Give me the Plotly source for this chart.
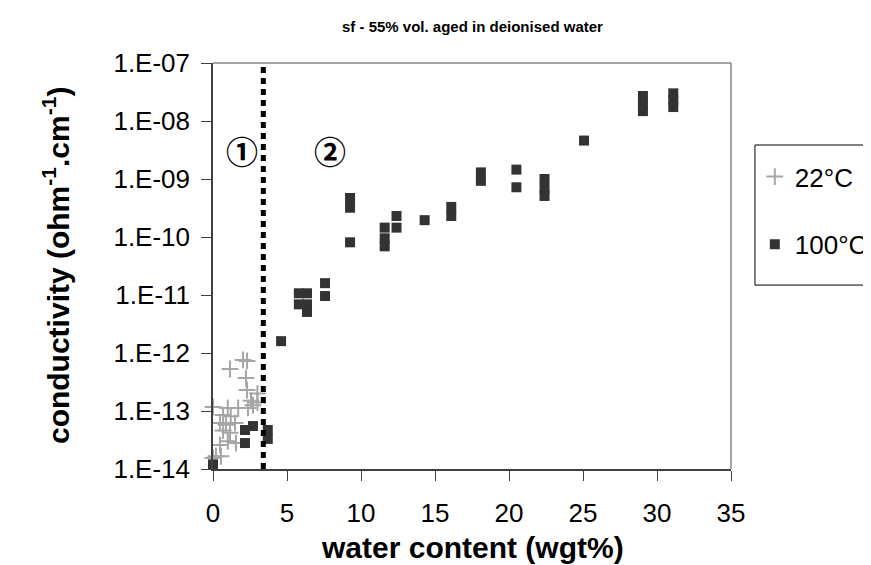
import math
import plotly.graph_objects as go

# ---------------- data ----------------
water_22 = [2.03, 2.3, 1.15, 2.23, 2.3, 2.57, 2.7, 0.0, 1.0, 1.7, 2.36, 0.68, 1.2,
            0.47, 0.88, 1.49, 0.68, 1.15, 1.0, 1.55, 0.47, 0.2, 0.54, 0.0, 3.0, 3.0]
cond_22 = [7.6e-13, 7.3e-13, 5.3e-13, 3.7e-13, 2.3e-13, 1.5e-13, 1.26e-13, 1.17e-13,
           1.13e-13, 1.13e-13, 1.13e-13, 8.5e-14, 8.1e-14, 6.2e-14, 5.8e-14, 6.2e-14,
           4.6e-14, 4.2e-14, 3.0e-14, 2.8e-14, 2.6e-14, 1.66e-14, 1.66e-14, 1.55e-14,
           2.0e-13, 1.4e-13]

water_100 = [0.0, 2.16, 2.7, 2.16, 3.7, 3.7, 4.6,
             5.8, 6.35, 5.8, 6.35, 6.35,
             7.57, 7.57,
             9.26, 9.26, 9.26,
             11.6, 11.6, 11.6,
             12.4, 12.4,
             14.3,
             16.1, 16.1,
             18.1, 18.1,
             20.5, 20.5,
             22.4, 22.4, 22.4,
             25.07,
             29.05, 29.05, 29.05,
             31.1, 31.1, 31.1]
cond_100 = [1.2e-14, 4.7e-14, 5.5e-14, 2.8e-14, 4.7e-14, 3.3e-14, 1.6e-12,
            1.07e-11, 1.07e-11, 6.9e-12, 6.9e-12, 5.1e-12,
            1.6e-11, 9.6e-12,
            4.7e-10, 3.2e-10, 8.1e-11,
            1.45e-10, 9.5e-11, 6.9e-11,
            2.3e-10, 1.45e-10,
            1.95e-10,
            3.3e-10, 2.3e-10,
            1.3e-09, 9.3e-10,
            1.45e-09, 7.2e-10,
            1.0e-09, 6.9e-10, 5.1e-10,
            4.6e-09,
            2.7e-08, 1.95e-08, 1.48e-08,
            3.0e-08, 2.3e-08, 1.74e-08]

x_ticks = [0, 5, 10, 15, 20, 25, 30, 35]
y_tickvals = [1e-14, 1e-13, 1e-12, 1e-11, 1e-10, 1e-9, 1e-8, 1e-7]
y_ticktext = ["1.E-14", "1.E-13", "1.E-12", "1.E-11", "1.E-10", "1.E-09", "1.E-08", "1.E-07"]

boundary_x = 3.4
zone_labels = ["①", "②"]
zone_x = [1.96, 7.9]
zone_y = 3.2e-9

title_text = "sf - 55% vol. aged in deionised water"
x_title = "water content (wgt%)"
y_title = "conductivity (ohm<sup>-1</sup>.cm<sup>-1</sup>)"

FONT = "Liberation Sans, Arial, sans-serif"

fig = go.Figure()

fig.add_trace(go.Scatter(
    x=water_22, y=cond_22, mode="markers", name="22°C", legendgroup="a",
    cliponaxis=False,
    marker=dict(symbol="cross-thin", size=12, color="#a6a6a6",
                line=dict(width=2, color="#a6a6a6")),
))
fig.add_trace(go.Scatter(
    x=water_100, y=cond_100, mode="markers", name="100°C", legendgroup="b",
    cliponaxis=False,
    marker=dict(symbol="square", size=10, color="#333333", line=dict(width=0)),
))

# boundary dotted line
fig.add_shape(type="line", xref="x", yref="paper", x0=boundary_x, x1=boundary_x,
              y0=0, y1=1, line=dict(color="black", width=5, dash="6px,5px"))
# plot-area border (top / right)
fig.add_shape(type="line", xref="paper", yref="paper", x0=0, x1=1, y0=1, y1=1,
              line=dict(color="#868686", width=1.5))
fig.add_shape(type="line", xref="paper", yref="paper", x0=1, x1=1, y0=0, y1=1,
              line=dict(color="#868686", width=1.5))
# legend frame
fig.add_shape(type="rect", xref="paper", yref="paper", x0=1.0463, x1=1.31,
              y0=0.453, y1=0.798, line=dict(color="black", width=1), fillcolor="white",
              layer="below")

for lab, zx in zip(zone_labels, zone_x):
    fig.add_annotation(x=zx, y=math.log10(zone_y), xref="x", yref="y", text="<b>%s</b>" % lab,
                       showarrow=False, xanchor="center", yanchor="middle",
                       font=dict(family="Noto Sans CJK JP, DejaVu Sans", size=32, color="black"))

fig.add_annotation(x=0.5, y=1.091, xref="paper", yref="paper", text="<b>%s</b>" % title_text,
                   showarrow=False, xanchor="center", yanchor="middle",
                   font=dict(family=FONT, size=15, color="black"))
fig.add_annotation(x=0.5, y=-0.194, xref="paper", yref="paper", text="<b>%s</b>" % x_title,
                   showarrow=False, xanchor="center", yanchor="middle",
                   font=dict(family=FONT, size=30, color="black"))
fig.add_annotation(x=-0.303, y=0.5, xref="paper", yref="paper", text="<b>%s</b>" % y_title,
                   textangle=-90, showarrow=False, xanchor="center", yanchor="middle",
                   font=dict(family=FONT, size=30, color="black"))

fig.update_layout(
    width=871, height=565,
    margin=dict(l=205, r=148, t=55, b=104, autoexpand=False),
    paper_bgcolor="white", plot_bgcolor="white",
    font=dict(family=FONT, color="black", size=26),
    showlegend=True,
    legend=dict(x=1.046, y=0.778, xanchor="left", yanchor="top",
                borderwidth=0, bgcolor="rgba(0,0,0,0)",
                font=dict(family=FONT, size=26, color="black"),
                tracegroupgap=31, itemsizing="trace"),
    xaxis=dict(range=[0, 35], tickvals=x_ticks, ticktext=[str(v) for v in x_ticks],
               showgrid=False, zeroline=False, showline=True, linecolor="#404040",
               linewidth=1.5, ticks="outside", ticklen=10, tickcolor="#404040",
               ticklabelstandoff=10, tickfont=dict(size=26)),
    yaxis=dict(type="log", range=[-14, -7], tickvals=y_tickvals, ticktext=y_ticktext,
               showgrid=False, zeroline=False, showline=True, linecolor="#404040",
               linewidth=1.5, ticks="outside", ticklen=10, tickcolor="#404040",
               ticklabelstandoff=6, tickfont=dict(size=26)),
)

fig.write_html("out.html")
